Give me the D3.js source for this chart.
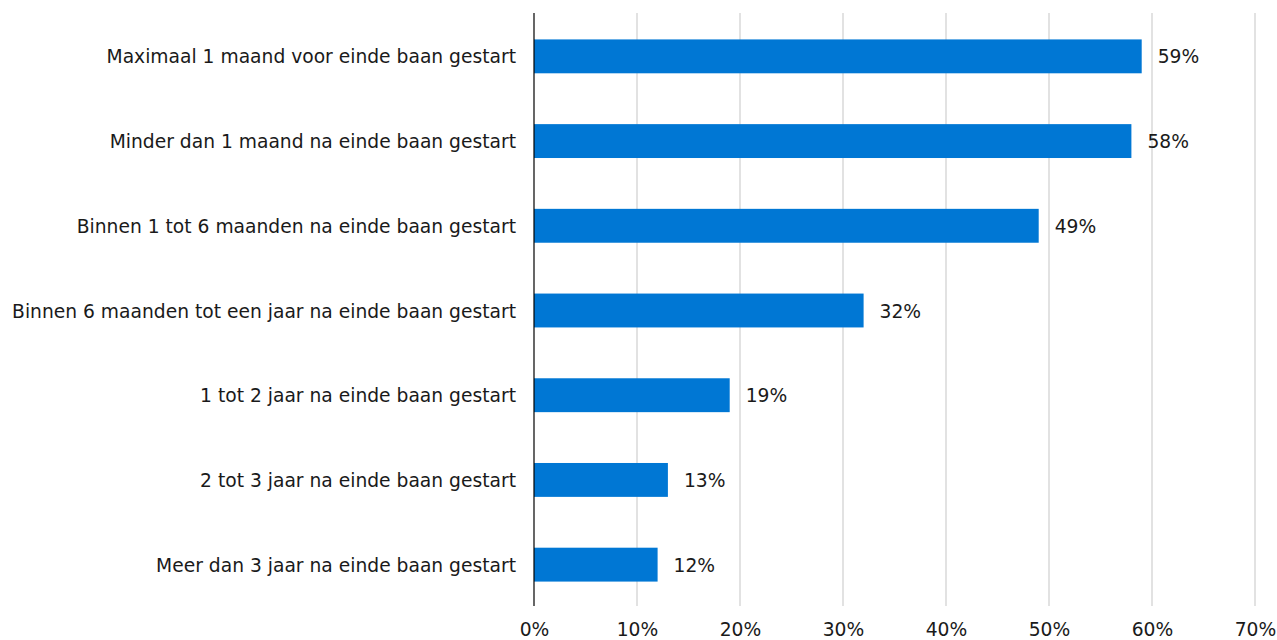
<!DOCTYPE html>
<html>
<head>
<meta charset="utf-8">
<script src="https://cdn.jsdelivr.net/npm/d3@7"></script>
<style>
  html, body { margin: 0; padding: 0; background: #ffffff; }
  svg { display: block; }
  text { font-family: "DejaVu Sans", Verdana, sans-serif; fill: #1a1a1a; }
</style>
</head>
<body>
<svg id="chart" width="1277" height="640"></svg>
<script>
// Moment van starten, aandeel per categorie
const categories = [
  "Maximaal 1 maand voor einde baan gestart",
  "Minder dan 1 maand na einde baan gestart",
  "Binnen 1 tot 6 maanden na einde baan gestart",
  "Binnen 6 maanden tot een jaar na einde baan gestart",
  "1 tot 2 jaar na einde baan gestart",
  "2 tot 3 jaar na einde baan gestart",
  "Meer dan 3 jaar na einde baan gestart"
];
const values = [59, 58, 49, 32, 19, 13, 12];
const tickValues = [0, 10, 20, 30, 40, 50, 60, 70];

const FONT = '"DejaVu Sans", Verdana, sans-serif';
const FS = 18.7;

const svg = d3.select("#chart");
const margin = { top: 13, right: 22, bottom: 34, left: 534 };
const width = 1277 - margin.left - margin.right;
const height = 640 - margin.top - margin.bottom;

const g = svg.append("g").attr("transform", `translate(${margin.left},${margin.top})`);

const x = d3.scaleLinear().domain([0, 70]).range([0, width]);
const y = d3.scaleBand().domain(categories).range([1, height + 1]).paddingInner(0.6).paddingOuter(0.3);

// vertical gridlines
g.append("g")
  .selectAll("line")
  .data(tickValues.filter(t => t > 0))
  .join("line")
  .attr("x1", d => x(d)).attr("x2", d => x(d))
  .attr("y1", 0).attr("y2", height)
  .attr("stroke", "#d9d9d9").attr("stroke-width", 1.5);

// bars
g.append("g")
  .selectAll("rect")
  .data(values)
  .join("rect")
  .attr("x", x(0))
  .attr("y", (d, i) => y(categories[i]))
  .attr("width", d => x(d) - x(0))
  .attr("height", y.bandwidth())
  .attr("fill", "#0077d4");

// value labels
g.append("g")
  .selectAll("text")
  .data(values)
  .join("text")
  .attr("x", d => x(d) + 16)
  .attr("y", (d, i) => y(categories[i]) + y.bandwidth() / 2)
  .attr("dy", "0.38em")
  .attr("font-size", FS)
  .text(d => d + "%");

// category axis
const yAxis = g.append("g").call(d3.axisLeft(y).tickSize(0).tickPadding(18));
yAxis.select(".domain").attr("d", `M0,0V${height}`).attr("stroke", "#000").attr("stroke-width", 1.2);
yAxis.selectAll("text").attr("font-size", FS).attr("dy", "0.38em").style("font-family", FONT).attr("fill", "#1a1a1a");

// value axis
const xAxis = g.append("g")
  .attr("transform", `translate(0,${height})`)
  .call(d3.axisBottom(x).tickValues(tickValues).tickFormat(d => d + "%").tickSize(0).tickPadding(17));
xAxis.select(".domain").remove();
xAxis.selectAll("text").attr("font-size", FS).style("font-family", FONT).attr("fill", "#1a1a1a");
</script>
</body>
</html>
